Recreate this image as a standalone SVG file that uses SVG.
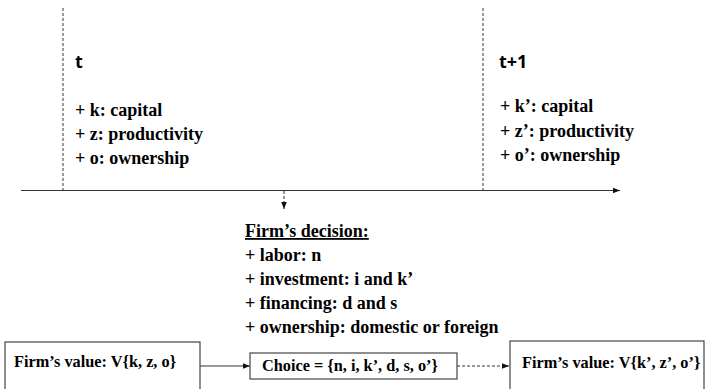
<svg xmlns="http://www.w3.org/2000/svg" width="707" height="389" viewBox="0 0 707 389">
<defs>
<style>
text{font-family:'Liberation Serif','Times New Roman',serif;font-weight:700;fill:#000}
text.s{font-size:18px}
text.b{font-size:16.3px}
text.h{font-family:'Open Sans','Liberation Sans',Arial,sans-serif;font-size:18px}
.dash{stroke:#333;stroke-width:1;stroke-dasharray:3,2;fill:none}
.solid{stroke:#333;stroke-width:1.2;fill:none}
.box{fill:#fff;stroke:#444;stroke-width:1.2}
</style>
<marker id="ah" viewBox="0 0 10 10" refX="10" refY="5" markerWidth="7" markerHeight="7" orient="auto" markerUnits="userSpaceOnUse">
<path d="M0,1 L10,5 L0,9 z" fill="#111"/>
</marker>
</defs>
<g id="connectors">
<line class="dash" x1="63" y1="8" x2="63" y2="190"/>
<line class="dash" x1="483" y1="8" x2="483" y2="190"/>
<line class="solid" x1="21" y1="190.5" x2="620" y2="190.5" marker-end="url(#ah)"/>
<line class="dash" x1="284" y1="191" x2="284" y2="209" marker-end="url(#ah)"/>
<line class="solid" x1="200" y1="366" x2="250" y2="366" marker-end="url(#ah)"/>
<line class="dash" x1="457" y1="366" x2="509" y2="366" marker-end="url(#ah)"/>
</g>
<g id="state-t">
<text class="h" x="75" y="68">t</text>
<text class="s" x="75" y="116">+ k: capital</text>
<text class="s" x="75" y="140">+ z: productivity</text>
<text class="s" x="75" y="164">+ o: ownership</text>
</g>
<g id="state-t1">
<text class="h" x="499" y="68">t+1</text>
<text class="s" x="500" y="112">+ k’: capital</text>
<text class="s" x="500" y="137">+ z’: productivity</text>
<text class="s" x="500" y="161">+ o’: ownership</text>
</g>
<g id="decision">
<text class="s" x="245" y="237" text-decoration="underline">Firm’s decision:</text>
<text class="s" x="245" y="261">+ labor: n</text>
<text class="s" x="245" y="285">+ investment: i and k’</text>
<text class="s" x="245" y="309">+ financing: d and s</text>
<text class="s" x="245" y="333">+ ownership: domestic or foreign</text>
</g>
<g id="value-t">
<rect class="box" x="5" y="342" width="195" height="52"/>
<text class="b" x="14" y="367">Firm’s value: V{k, z, o}</text>
</g>
<g id="choice">
<rect class="box" x="250" y="353" width="207" height="26"/>
<text class="b" x="262" y="371">Choice = {n, i, k’, d, s, o’}</text>
</g>
<g id="value-t1">
<rect class="box" x="510" y="341" width="194" height="53"/>
<text class="b" x="522" y="368">Firm’s value: V{k’, z’, o’}</text>
</g>
</svg>
